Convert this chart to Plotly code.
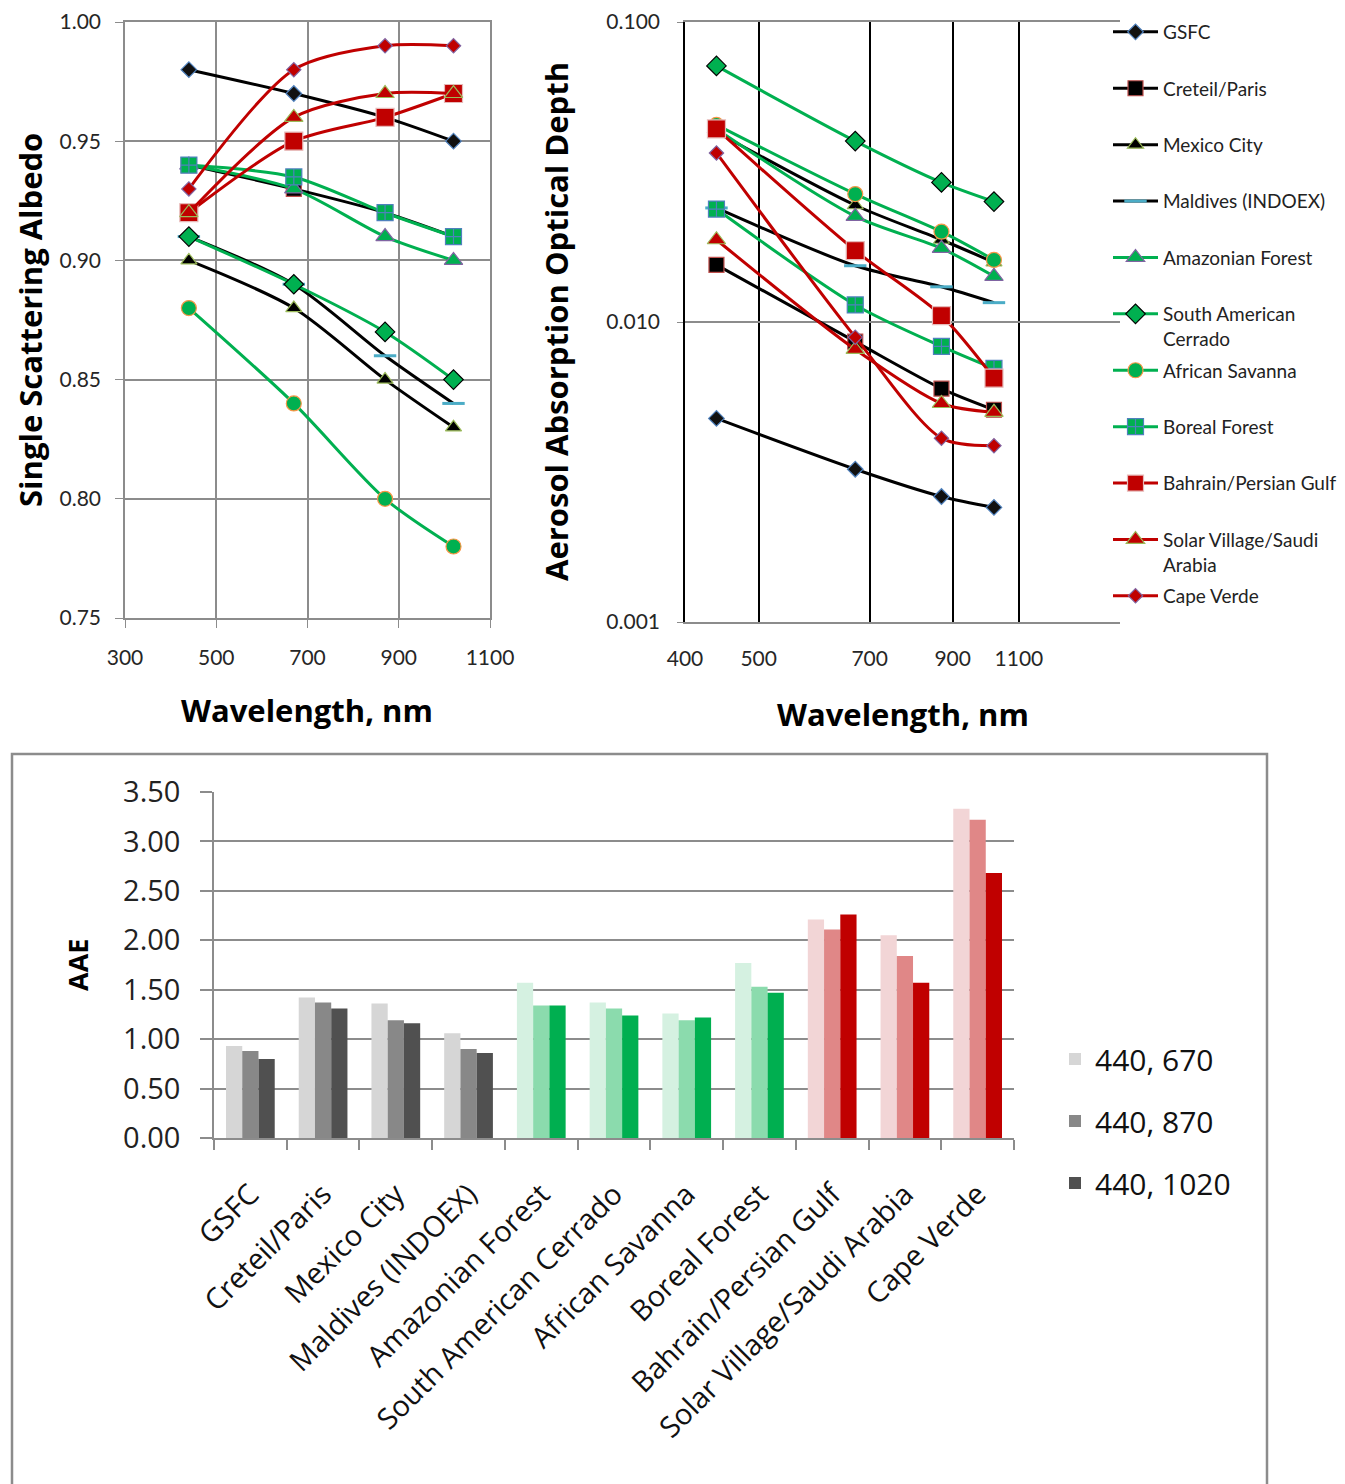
import numpy as np
import plotly.graph_objects as go

W, H = 1345, 1484
OFF = 8  # the page body margin that offsets the figure in the browser

# ---------------- data ----------------
wavelengths = [440, 670, 870, 1020]
sites = ["GSFC", "Creteil/Paris", "Mexico City", "Maldives (INDOEX)", "Amazonian Forest",
         "South American Cerrado", "African Savanna", "Boreal Forest", "Bahrain/Persian Gulf",
         "Solar Village/Saudi Arabia", "Cape Verde"]
legend_names = ["GSFC<br>&nbsp;", "Creteil/Paris<br>&nbsp;", "Mexico City<br>&nbsp;",
                "Maldives (INDOEX)<br>&nbsp;", "Amazonian Forest<br>&nbsp;",
                "South American<br>Cerrado", "African Savanna<br>&nbsp;",
                "Boreal Forest<br>&nbsp;", "Bahrain/Persian Gulf<br>&nbsp;",
                "Solar Village/Saudi<br>Arabia", "Cape Verde<br>&nbsp;"]

ssa_gsfc = [0.98, 0.97, 0.96, 0.95]
ssa_creteil = [0.94, 0.93, 0.92, 0.91]
ssa_mexico = [0.90, 0.88, 0.85, 0.83]
ssa_maldives = [0.91, 0.89, 0.86, 0.84]
ssa_amazon = [0.94, 0.93, 0.91, 0.90]
ssa_cerrado = [0.91, 0.89, 0.87, 0.85]
ssa_savanna = [0.88, 0.84, 0.80, 0.78]
ssa_boreal = [0.94, 0.935, 0.92, 0.91]
ssa_bahrain = [0.92, 0.95, 0.96, 0.97]
ssa_solar = [0.92, 0.96, 0.97, 0.97]
ssa_capeverde = [0.93, 0.98, 0.99, 0.99]

aaod_gsfc = [0.00477, 0.00323, 0.00262, 0.00241]
aaod_creteil = [0.0155, 0.0086, 0.0060, 0.0051]
aaod_mexico = [0.043, 0.0245, 0.0188, 0.0158]
aaod_maldives = [0.0240, 0.0154, 0.0131, 0.0116]
aaod_amazon = [0.044, 0.0225, 0.0176, 0.0142]
aaod_cerrado = [0.0714, 0.0401, 0.0292, 0.0252]
aaod_savanna = [0.0454, 0.0267, 0.0200, 0.0161]
aaod_boreal = [0.0238, 0.0114, 0.0083, 0.0070]
aaod_bahrain = [0.044, 0.0173, 0.0105, 0.0065]
aaod_solar = [0.0188, 0.0081, 0.00535, 0.0050]
aaod_capeverde = [0.0366, 0.0089, 0.0041, 0.00387]

aae_pairs = ["440, 670", "440, 870", "440, 1020"]
aae_440_670 = [0.93, 1.42, 1.36, 1.06, 1.57, 1.37, 1.26, 1.77, 2.21, 2.05, 3.33]
aae_440_870 = [0.88, 1.37, 1.19, 0.90, 1.34, 1.31, 1.19, 1.53, 2.11, 1.84, 3.22]
aae_440_1020 = [0.80, 1.31, 1.16, 0.86, 1.34, 1.24, 1.22, 1.47, 2.26, 1.57, 2.68]

ssa_all = [ssa_gsfc, ssa_creteil, ssa_mexico, ssa_maldives, ssa_amazon, ssa_cerrado,
           ssa_savanna, ssa_boreal, ssa_bahrain, ssa_solar, ssa_capeverde]
aaod_all = [aaod_gsfc, aaod_creteil, aaod_mexico, aaod_maldives, aaod_amazon, aaod_cerrado,
            aaod_savanna, aaod_boreal, aaod_bahrain, aaod_solar, aaod_capeverde]

# ---------------- styles ----------------
BLACK, GREEN, RED = "#000000", "#00B050", "#C00000"
styles = [
    dict(lc=BLACK, sym="diamond", fc="#111111", mlc="#4F81BD", size=12),
    dict(lc=BLACK, sym="square", fc="#000000", mlc="#C0504D", size=15),
    dict(lc=BLACK, sym="triangle-up", fc="#000000", mlc="#9BBB59", size=14),
    dict(lc=BLACK, sym="line-ew", fc="#4BACC6", mlc="#4BACC6", size=16, mlw=3),
    dict(lc=GREEN, sym="triangle-up", fc=GREEN, mlc="#8064A2", size=16),
    dict(lc=GREEN, sym="diamond", fc=GREEN, mlc="#000000", size=15),
    dict(lc=GREEN, sym="circle", fc=GREEN, mlc="#F79646", size=15),
    dict(lc=GREEN, sym="square-cross", fc=GREEN, mlc="#4F81BD", size=16),
    dict(lc=RED, sym="square", fc=RED, mlc="#E6B9B8", size=18),
    dict(lc=RED, sym="triangle-up", fc=RED, mlc="#9BBB59", size=16),
    dict(lc=RED, sym="diamond", fc=RED, mlc="#8064A2", size=11),
]

bar_colors = {
    "440, 670": ["#D6D6D6"] * 4 + ["#D5F1E1"] * 4 + ["#F2D5D6"] * 3,
    "440, 870": ["#888888"] * 4 + ["#8BDBAD"] * 4 + ["#E08787"] * 3,
    "440, 1020": ["#505050"] * 4 + ["#00AF50"] * 4 + ["#C00000"] * 3,
}

TOPFONT = "Lato"
TITLEFONT = "Open Sans"
BOTFONT = "Open Sans"
GRID = "#8C8C8C"


def px(xp):
    return (xp - OFF) / W


def py(yp):
    return 1 - (yp - OFF) / H


fig = go.Figure()

for i, s in enumerate(styles):
    marker = dict(symbol=s["sym"], color=s["fc"], size=s["size"],
                  line=dict(color=s["mlc"], width=s.get("mlw", 1.2)))
    fig.add_trace(go.Scatter(
        x=wavelengths, y=ssa_all[i], mode="lines+markers", name=legend_names[i],
        line=dict(color=s["lc"], width=3, shape="spline", smoothing=0.8),
        marker=marker, xaxis="x", yaxis="y", showlegend=False, legendgroup=f"g{i}"))
for i, s in enumerate(styles):
    marker = dict(symbol=s["sym"], color=s["fc"], size=s["size"],
                  line=dict(color=s["mlc"], width=s.get("mlw", 1.2)))
    fig.add_trace(go.Scatter(
        x=wavelengths, y=aaod_all[i], mode="lines+markers", name=legend_names[i],
        line=dict(color=s["lc"], width=3, shape="spline", smoothing=0.8),
        marker=marker, xaxis="x2", yaxis="y2", showlegend=True, legendgroup=f"g{i}",
        legend="legend"))

for k, (pair, vals) in enumerate(zip(aae_pairs, [aae_440_670, aae_440_870, aae_440_1020])):
    fig.add_trace(go.Bar(
        x=sites, y=vals, name=pair, marker=dict(color=bar_colors[pair], line=dict(width=0)),
        xaxis="x3", yaxis="y3", legend="legend2", legendgroup=f"b{k}"))

tickfont_top = dict(family=TOPFONT, size=21, color="#262626")

fig.update_layout(
    width=W, height=H, margin=dict(l=0, r=0, t=0, b=0, autoexpand=False),
    paper_bgcolor="white", plot_bgcolor="white",
    showlegend=True,
    bargap=0.33, bargroupgap=0.0, barmode="group",
    xaxis=dict(domain=[px(125), px(490)], range=[300, 1100], tickvals=[300, 500, 700, 900, 1100],
               showgrid=True, gridcolor=GRID, gridwidth=1.5, showline=True, linecolor=GRID,
               linewidth=1.5, mirror=True, ticks="outside", ticklen=8, tickcolor=GRID,
               tickfont=tickfont_top, ticklabelstandoff=12, zeroline=False, anchor="y"),
    yaxis=dict(domain=[py(618), py(22)], range=[0.75, 1.00], dtick=0.05, tick0=0.75,
               tickformat=".2f", showgrid=True, gridcolor=GRID, gridwidth=1.5, showline=True,
               linecolor=GRID, linewidth=1.5, mirror=True, ticks="outside", ticklen=8,
               tickcolor=GRID, tickfont=tickfont_top, ticklabelstandoff=10, zeroline=False,
               anchor="x"),
    xaxis2=dict(domain=[px(685), px(1120)], type="log",
                range=[np.log10(400), np.log10(400) + 435 / 760],
                tickvals=[400, 500, 700, 900, 1100], ticktext=["400", "500", "700", "900", "1100"],
                showgrid=True, gridcolor="#000000", gridwidth=1.5, showline=True, linecolor=GRID,
                linewidth=1.5, mirror=True, ticks="", tickfont=tickfont_top, ticklabelstandoff=17,
                zeroline=False, anchor="y2"),
    yaxis2=dict(domain=[py(622), py(22)], type="log", range=[-3, -1],
                tickvals=[0.001, 0.01, 0.1], ticktext=["0.001", "0.010", "0.100"],
                showgrid=True, gridcolor=GRID, gridwidth=1.5, showline=True, linecolor="#000000",
                linewidth=1.5, ticks="outside", ticklen=6, tickcolor=GRID, tickfont=tickfont_top,
                ticklabelstandoff=13, zeroline=False, anchor="x2"),
    xaxis3=dict(domain=[px(214), px(1014)], type="category", showgrid=False, showline=True,
                linecolor=GRID, linewidth=1.5, ticks="outside", tickson="boundaries", ticklen=10,
                tickcolor=GRID, tickwidth=1.5, tickangle=-45, ticklabelstandoff=26,
                tickfont=dict(family=BOTFONT, size=29, color="#111111"), anchor="y3"),
    yaxis3=dict(domain=[py(1138), py(792)], range=[0, 3.5], dtick=0.5, tickformat=".2f",
                showgrid=True, gridcolor=GRID, gridwidth=1.5, showline=True, linecolor=GRID,
                linewidth=1.5, ticks="outside", ticklen=12, tickcolor=GRID, tickwidth=1.5,
                tickfont=dict(family=BOTFONT, size=29, color="#222222"), ticklabelstandoff=14,
                zeroline=False, layer="above traces", anchor="x3"),
    legend=dict(x=px(1108), y=py(13), xanchor="left", yanchor="top", valign="top",
                font=dict(family=TOPFONT, size=19, color="#222222"), itemwidth=45,
                itemsizing="trace", tracegroupgap=4, bgcolor="rgba(0,0,0,0)", itemclick=False),
    legend2=dict(x=px(1055), y=py(1033), xanchor="left", yanchor="top",
                 font=dict(family=BOTFONT, size=30, color="#111111"), itemwidth=30,
                 tracegroupgap=20, bgcolor="rgba(0,0,0,0)"),
)

# axis titles
title_font = dict(family=TITLEFONT, size=31, color="#000000")
ann = dict(xref="paper", yref="paper", showarrow=False, xanchor="center", yanchor="middle")
fig.add_annotation(text="<b>Single Scattering Albedo</b>", x=px(30), y=py(320), textangle=-90,
                   font=title_font, **ann)
fig.add_annotation(text="<b>Wavelength, nm</b>", x=px(307), y=py(710), font=title_font, **ann)
fig.add_annotation(text="<b>Aerosol Absorption Optical Depth</b>", x=px(556), y=py(322),
                   textangle=-90, font=title_font, **ann)
fig.add_annotation(text="<b>Wavelength, nm</b>", x=px(903), y=py(714), font=title_font, **ann)
fig.add_annotation(text="<b>AAE</b>", x=px(77), y=py(965), textangle=-90,
                   font=dict(family=BOTFONT, size=27, color="#000000"), **ann)

# black frame segment along the bottom of the AAOD plot
fig.add_shape(type="line", xref="x2", yref="y2 domain", x0=np.log10(500), x1=np.log10(1100),
              y0=0, y1=0, line=dict(color="#000000", width=1.5))
# border around the bar chart panel
fig.add_shape(type="rect", xref="paper", yref="paper", x0=px(12), x1=px(1267), y0=py(1520),
              y1=py(754), line=dict(color="#8C8C8C", width=2.5), fillcolor="rgba(0,0,0,0)",
              layer="below")

fig.write_html("out.html")
